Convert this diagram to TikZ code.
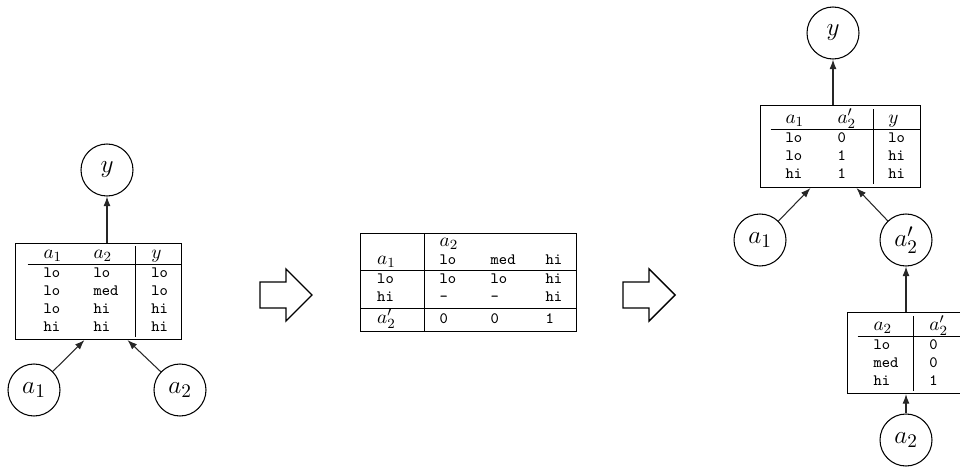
\documentclass[tikz,border=0pt]{standalone}
\usepackage{array}
\usetikzlibrary{arrows.meta, positioning, calc}
\newlength\upx
\setlength\upx{0.02cm}
\setlength\arrayrulewidth{0.5pt}
\newcommand\tv[1]{\texttt{#1}}
\newcommand\hd[1]{{\fontsize{11}{10.24}\selectfont$#1$}}

\begin{document}
\begin{tikzpicture}[
  x=0.02cm, y=-0.02cm,
  var/.style={circle, draw=black, line width=0.6pt, minimum size=52\upx,
              inner sep=0pt, font=\fontsize{15}{18}\selectfont},
  tab/.style={rectangle, draw=black, line width=0.6pt, inner sep=0pt,
              anchor=north west, font=\fontsize{9}{10.24}\selectfont},
  arr/.style={-{Latex[length=5.5pt, width=4pt]}, line width=0.6pt, black!85},
  fatarrow/.pic={\draw[line width=0.8pt, line join=miter]
     (0,-13) -- (26,-13) -- (26,-26) -- (52,0) -- (26,26) -- (26,13) -- (0,13) -- cycle;},
]
  \useasboundingbox (0,0) rectangle (960,473);

  % Left: original network
  \node[var] (yL) at (107,170) {$y$};
  \node[tab, minimum height=96\upx] (tabL) at (15,243)
    {\hspace{12\upx}\begin{tabular}{@{\hspace{16\upx}}p{50\upx}@{}p{41\upx}@{}|@{\hspace{16\upx}}p{30\upx}@{}}
      \hd{a_1} & \hd{a_2} & \hd{y} \\ \hline
      \tv{lo} & \tv{lo} & \tv{lo} \\
      \tv{lo} & \tv{med} & \tv{lo} \\
      \tv{lo} & \tv{hi} & \tv{hi} \\
      \tv{hi} & \tv{hi} & \tv{hi}
    \end{tabular}\hspace{3\upx}};
  \node[var] (a1L) at (34,390) {$a_1$};
  \node[var] (a2L) at (180,390) {$a_2$};

  \draw[arr] (tabL.north -| yL) -- (yL);
  \draw[arr] (a1L) -- ([xshift=-0.28cm]tabL.south);
  \draw[arr] (a2L) -- ([xshift=0.58cm]tabL.south);

  \pic at (260,295) {fatarrow};

  % Middle: combined table
  \node[inner sep=0pt, anchor=north west, font=\fontsize{9}{10.24}\selectfont] (tabM) at (360,233)
    {\begin{tabular}{|@{\hspace{16\upx}}p{36\upx}|@{\hspace{15\upx}}p{51\upx}@{}p{55\upx}@{}p{30\upx}@{}|}
      \hline
       & \hd{a_2} & & \\
      \hd{a_1} & \tv{lo} & \tv{med} & \tv{hi} \\ \hline
      \tv{lo} & \tv{lo} & \tv{lo} & \tv{hi} \\
      \tv{hi} & \tv{-} & \tv{-} & \tv{hi} \\[1\upx] \hline
      \hd{a'_2} & \tv{0} & \tv{0} & \tv{1} \\[2\upx] \hline
    \end{tabular}};

  \pic at (623,295) {fatarrow};

  % Right: decomposed network
  \node[var] (yR) at (833,33) {$y$};
  \node[tab, minimum height=82\upx] (tabRT) at (760,105)
    {\hspace{10\upx}\begin{tabular}{@{\hspace{15\upx}}p{52\upx}@{}p{35\upx}@{}|@{\hspace{15\upx}}p{32\upx}@{}}
      \hd{a_1} & \hd{a'_2} & \hd{y} \\ \hline
      \tv{lo} & \tv{0} & \tv{lo} \\
      \tv{lo} & \tv{1} & \tv{hi} \\
      \tv{hi} & \tv{1} & \tv{hi}
    \end{tabular}\hspace{1\upx}};
  \node[var] (a1R) at (760,240) {$a_1$};
  \node[var] (a2pR) at (906,240) {$a'_2$};
  \node[tab, minimum height=81\upx] (tabRB) at (847,312)
    {\hspace{10\upx}\begin{tabular}{@{\hspace{16\upx}}p{39\upx}@{}|@{\hspace{16\upx}}p{36\upx}@{}}
      \hd{a_2} & \hd{a'_2} \\ \hline
      \tv{lo} & \tv{0} \\
      \tv{med} & \tv{0} \\
      \tv{hi} & \tv{1}
    \end{tabular}\hspace{6\upx}};
  \node[var] (a2R) at (906,440) {$a_2$};

  \draw[arr] (tabRT.north -| yR) -- (yR);
  \draw[arr] (a1R) -- ([xshift=-0.6cm]tabRT.south);
  \draw[arr] (a2pR) -- ([xshift=0.32cm]tabRT.south);
  \draw[arr] (tabRB.north -| a2pR) -- (a2pR);
  \draw[arr] (a2R) -- (tabRB.south -| a2R);
\end{tikzpicture}
\end{document}
